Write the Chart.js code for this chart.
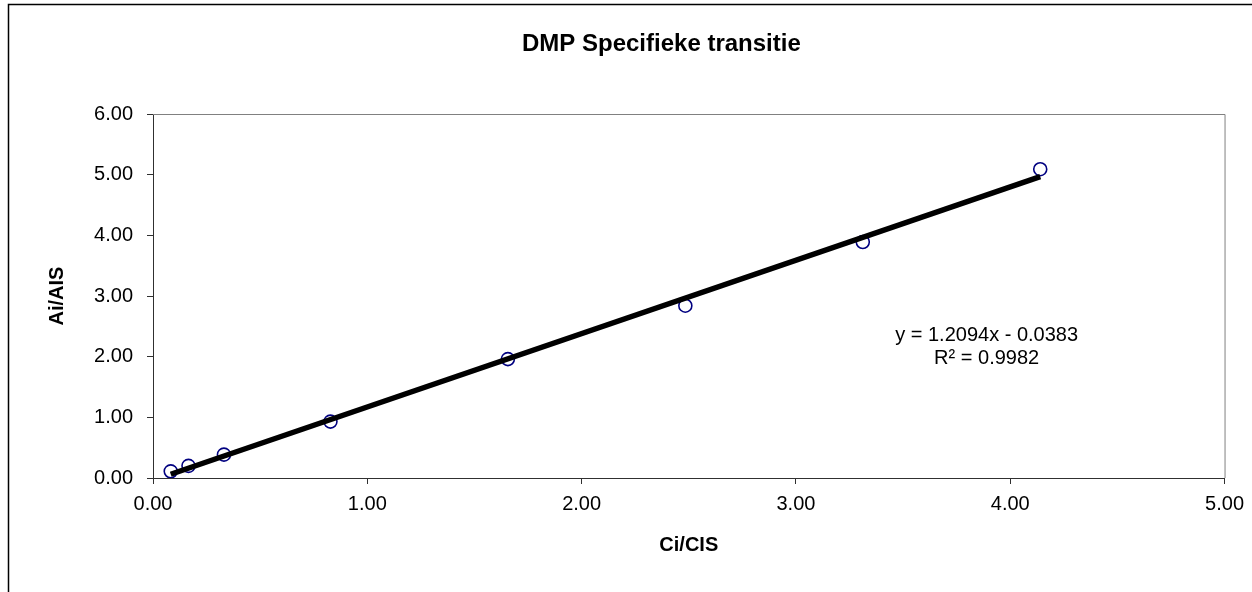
<!DOCTYPE html>
<html>
<head>
<meta charset="utf-8">
<script src="https://cdn.jsdelivr.net/npm/chart.js@4/dist/chart.umd.min.js"></script>
<style>
  html, body { margin: 0; padding: 0; background: #fff; }
</style>
</head>
<body>
<canvas id="chart" width="1252" height="592"></canvas>
<script>
// measured points (Ci/CIS vs Ai/AIS)
const xValues = [0.0828, 0.1656, 0.331, 0.828, 1.656, 2.484, 3.312, 4.14];
const yValues = [0.11, 0.20, 0.385, 0.93, 1.96, 2.84, 3.89, 5.09];
// linear trendline as printed on the chart
const trendSlope = 1.2094;
const trendIntercept = -0.0383;
const rSquared = 0.9982;
const xTicks = [0, 1, 2, 3, 4, 5];
const yTicks = [0, 1, 2, 3, 4, 5, 6];
const chartTitle = 'DMP Specifieke transitie';

const FONT = "'Liberation Sans', Arial, sans-serif";
const axisColor = '#303030';

let points = xValues.map((x, i) => ({ x: x, y: yValues[i] }));
let xMin = Math.min(...xValues), xMax = Math.max(...xValues);
let trend = [
  { x: xMin, y: trendSlope * xMin + trendIntercept },
  { x: xMax, y: trendSlope * xMax + trendIntercept }
];

// frame around the whole chart, title, top/right edge of plot area, equation label
const decorations = {
  id: 'decorations',
  beforeDraw(chart) {
    const c = chart.ctx;
    c.save();
    c.strokeStyle = '#000';
    c.lineWidth = 1.5;
    c.beginPath();
    c.moveTo(8.5, 600);
    c.lineTo(8.5, 4.5);
    c.lineTo(1260, 4.5);
    c.stroke();
    c.fillStyle = '#000';
    c.font = 'bold 24px ' + FONT;
    c.textAlign = 'left';
    c.textBaseline = 'middle';
    c.fillText(chartTitle, 522, 44);
    c.restore();
  },
  beforeDatasetsDraw(chart) {
    const a = chart.chartArea;
    const c = chart.ctx;
    c.save();
    c.strokeStyle = '#808080';
    c.lineWidth = 1;
    c.beginPath();
    c.moveTo(a.left, a.top + 0.5);
    c.lineTo(a.right + 0.5, a.top + 0.5);
    c.lineTo(a.right + 0.5, a.bottom);
    c.stroke();
    c.restore();
  },
  afterDatasetsDraw(chart) {
    const c = chart.ctx;
    const xs = chart.scales.x, ys = chart.scales.y;
    let px = xs.getPixelForValue(3.89);
    let py = ys.getPixelForValue(2.35);
    let sign = trendIntercept < 0 ? ' - ' : ' + ';
    c.save();
    c.fillStyle = '#000';
    c.font = '20px ' + FONT;
    c.textAlign = 'center';
    c.textBaseline = 'middle';
    c.fillText('y = ' + trendSlope.toFixed(4) + 'x' + sign + Math.abs(trendIntercept).toFixed(4), px, py);
    c.fillText('R² = ' + rSquared.toFixed(4), px, py + 23);
    c.restore();
  }
};

const chart = new Chart(document.getElementById('chart'), {
  type: 'scatter',
  data: {
    datasets: [
      {
        label: 'Trendline',
        type: 'line',
        data: trend,
        borderColor: '#000',
        borderWidth: 5.5,
        pointRadius: 0,
        fill: false,
        order: 0
      },
      {
        label: 'DMP',
        data: points,
        pointStyle: 'circle',
        pointRadius: 6.5,
        pointBorderWidth: 1.6,
        pointBorderColor: '#000080',
        pointBackgroundColor: 'rgba(255,255,255,0)',
        showLine: false,
        order: 1
      }
    ]
  },
  options: {
    responsive: false,
    animation: false,
    layout: { padding: { left: 0, right: 27, top: 114, bottom: 0 } },
    plugins: {
      legend: { display: false },
      tooltip: { enabled: false },
      title: { display: false }
    },
    scales: {
      x: {
        type: 'linear',
        min: 0,
        max: 5,
        afterBuildTicks: s => { s.ticks = xTicks.map(v => ({ value: v })); },
        afterFit: s => { s.height = 114; },
        ticks: {
          color: '#000',
          font: { family: FONT, size: 20 },
          padding: 8,
          callback: v => v.toFixed(2)
        },
        grid: { drawOnChartArea: false, drawTicks: true, tickLength: 6, color: axisColor },
        border: { color: axisColor, width: 1 },
        title: {
          display: true,
          text: 'Ci/CIS',
          color: '#000',
          font: { family: FONT, size: 20, weight: 'bold' },
          padding: { top: 0, bottom: 35 }
        }
      },
      y: {
        type: 'linear',
        min: 0,
        max: 6,
        afterBuildTicks: s => { s.ticks = yTicks.map(v => ({ value: v })); },
        afterFit: s => { s.width = 153; },
        ticks: {
          color: '#000',
          font: { family: FONT, size: 20 },
          padding: 14,
          callback: v => v.toFixed(2)
        },
        grid: { drawOnChartArea: false, drawTicks: true, tickLength: 6, color: axisColor },
        border: { color: axisColor, width: 1 },
        title: {
          display: true,
          text: 'Ai/AIS',
          color: '#000',
          font: { family: FONT, size: 20, weight: 'bold' },
          padding: { top: 45, bottom: 0 }
        }
      }
    }
  },
  plugins: [decorations]
});
</script>
</body>
</html>
